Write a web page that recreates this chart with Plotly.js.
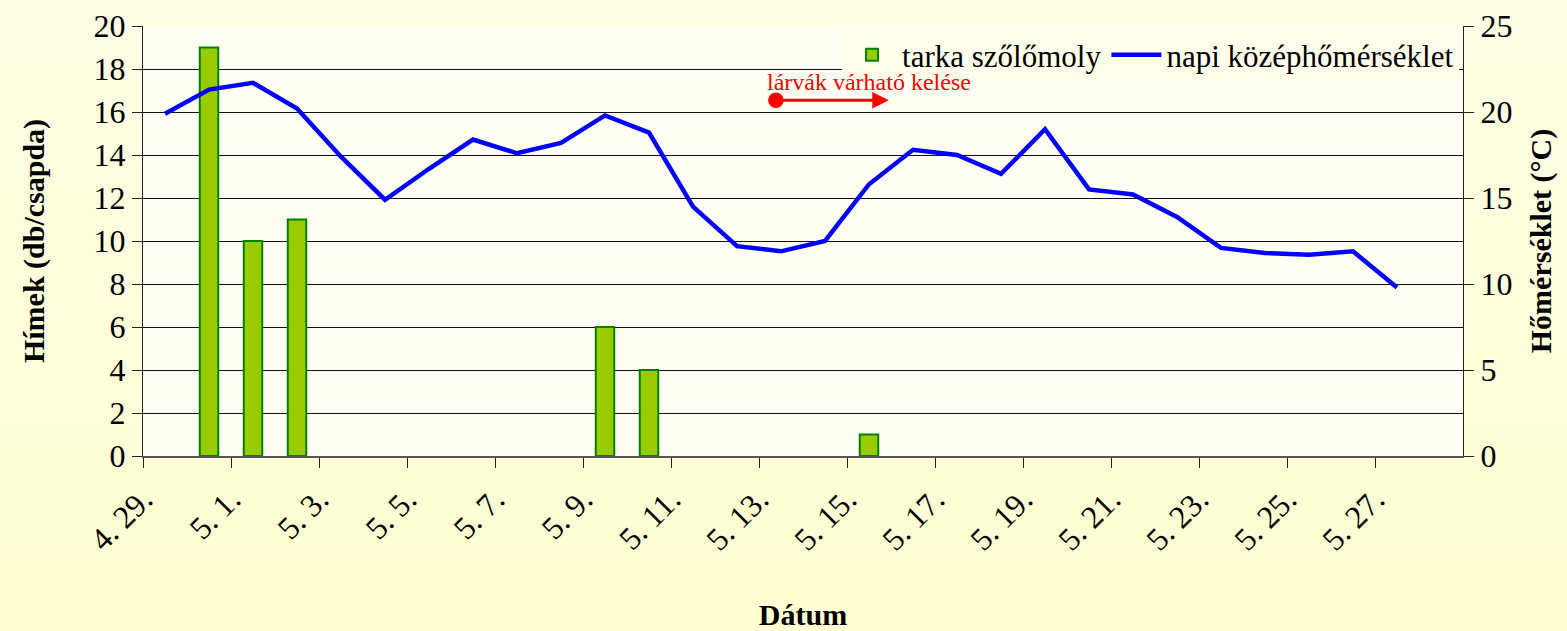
<!DOCTYPE html>
<html>
<head>
<meta charset="utf-8">
<script src="https://cdn.plot.ly/plotly-3.0.1.min.js"></script>
<style>
  html, body { margin: 0; padding: 0; }
  body { background: linear-gradient(to bottom, #FFFFE6 0%, #FFFFDA 60%, #FFFFD0 100%); }
  #chart { width: 1567px; height: 631px; }
</style>
</head>
<body>
<div id="chart"></div>
<script>
// Days (4.29 – 5.27)
const dates = ['4. 29.','4. 30.','5. 1.','5. 2.','5. 3.','5. 4.','5. 5.','5. 6.','5. 7.','5. 8.',
               '5. 9.','5. 10.','5. 11.','5. 12.','5. 13.','5. 14.','5. 15.','5. 16.','5. 17.','5. 18.',
               '5. 19.','5. 20.','5. 21.','5. 22.','5. 23.','5. 24.','5. 25.','5. 26.','5. 27.'];
// Males per trap (tarka szőlőmoly)
const males = [null, 19, 10, 11, null, null, null, null, null, null,
               6, 4, null, null, null, null, 1, null, null, null,
               null, null, null, null, null, null, null, null, null];
// Daily mean temperature (°C)
const temps = [19.9, 21.3, 21.7, 20.2, 17.4, 14.9, 16.7, 18.4, 17.6, 18.2,
               19.8, 18.8, 14.5, 12.2, 11.9, 12.5, 15.8, 17.8, 17.5, 16.4,
               19.0, 15.5, 15.2, 13.9, 12.1, 11.8, 11.7, 11.9, 9.8];
// Tick labels: every second day
const tickLabels = dates.filter((d, i) => i % 2 === 0);
const tickVals = tickLabels.map(l => dates.indexOf(l));

const xs = dates.map((d, i) => i + 0.5);

const serif = 'Liberation Serif';

const traces = [
  {
    type: 'bar', name: 'tarka szőlőmoly', x: xs, y: males, yaxis: 'y', xaxis: 'x',
    width: 0.42,
    marker: { color: '#99CC00', line: { color: '#008000', width: 2 } },
    hoverinfo: 'y'
  },
  {
    type: 'scatter', mode: 'lines', name: 'napi középhőmérséklet', x: xs, y: temps,
    yaxis: 'y2', xaxis: 'x',
    line: { color: '#0000FF', width: 4.5 }
  }
];

const layout = {
  width: 1567, height: 631,
  margin: { l: 143, r: 104, t: 26, b: 175 },
  paper_bgcolor: 'rgba(0,0,0,0)',
  plot_bgcolor: '#FFFFF3',
  font: { family: serif, size: 32, color: '#000' },
  showlegend: true,
  legend: {
    orientation: 'h', x: 0.997, xanchor: 'right', y: 0.995, yanchor: 'top',
    bgcolor: '#FFFFEC', font: { family: serif, size: 31, color: '#000' },
    itemwidth: 50, traceorder: 'normal'
  },
  bargap: 0,
  xaxis: {
    range: [0, 30], tickmode: 'array', tickvals: tickVals, ticktext: tickLabels,
    tickangle: -45, ticks: 'outside', ticklen: 10, tickcolor: '#222', tickwidth: 1,
    showline: true, linecolor: '#555', linewidth: 2, showgrid: false, zeroline: false,
    tickfont: { family: serif, size: 32, color: '#000' },
    title: { text: 'Dátum', font: { family: serif, size: 30, weight: 'bold', color: '#000' }, standoff: 50 },
    automargin: false
  },
  xaxis2: {
    overlaying: 'x', range: [0, 30], tickmode: 'array', tickvals: tickVals,
    ticks: 'inside', ticklen: 10, tickcolor: '#222', tickwidth: 1,
    showticklabels: false, showgrid: false, zeroline: false, showline: false
  },
  yaxis: {
    range: [0, 20], dtick: 2, tick0: 0, ticks: 'outside', ticklen: 10, tickcolor: '#222',
    showline: true, linecolor: '#222', linewidth: 1,
    showgrid: true, gridcolor: '#111', gridwidth: 1, zeroline: false,
    tickfont: { family: serif, size: 32, color: '#000' },
    title: { text: 'Hímek (db/csapda)', font: { family: serif, size: 30, weight: 'bold', color: '#000' }, standoff: 40 },
    automargin: false
  },
  yaxis3: {
    overlaying: 'y', side: 'left', range: [0, 20], dtick: 2, ticks: 'inside', ticklen: 5,
    tickcolor: '#222', showticklabels: false, showgrid: false, zeroline: false, showline: false
  },
  yaxis2: {
    overlaying: 'y', side: 'right', range: [0, 25], dtick: 5, tick0: 0,
    ticks: 'outside', ticklen: 10, tickcolor: '#222',
    showline: true, linecolor: '#222', linewidth: 1,
    showgrid: false, zeroline: false,
    tickfont: { family: serif, size: 32, color: '#000' },
    title: { text: 'Hőmérséklet (°C)', font: { family: serif, size: 30, weight: 'bold', color: '#000' }, standoff: 18 },
    automargin: false
  },
  yaxis4: {
    overlaying: 'y', side: 'right', range: [0, 25], dtick: 5, ticks: 'inside', ticklen: 10,
    tickcolor: '#222', showticklabels: false, showgrid: false, zeroline: false, showline: false
  },
  annotations: [
    {
      x: 16.95, y: 16.55, xref: 'x', yref: 'y',
      ax: 14.35, ay: 16.55, axref: 'x', ayref: 'y',
      showarrow: true, arrowside: 'end+start', arrowhead: 2, startarrowhead: 6,
      arrowsize: 1.1, startarrowsize: 1.3, arrowwidth: 3, arrowcolor: '#FF0000', text: ''
    },
    {
      x: 16.5, y: 17.4, xref: 'x', yref: 'y', showarrow: false,
      text: 'lárvák várható kelése',
      font: { family: serif, size: 24, color: '#FF0000' }
    }
  ]
};

Plotly.newPlot('chart', traces, layout, { displayModeBar: false, staticPlot: true });
</script>
</body>
</html>
